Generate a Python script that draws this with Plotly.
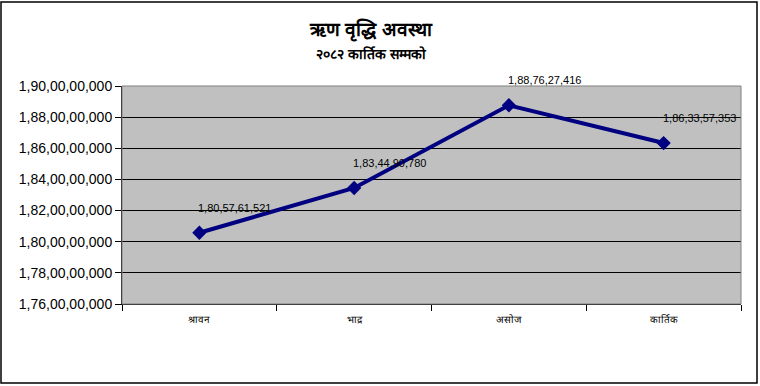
import plotly.graph_objects as go

months = ["श्रावन", "भाद्र", "असोज", "कार्तिक"]
values = [1805761521, 1834490780, 1887627416, 1863357353]
labels = ["1,80,57,61,521", "1,83,44,90,780", "1,88,76,27,416", "1,86,33,57,353"]
ytick_vals = [1760000000, 1780000000, 1800000000, 1820000000, 1840000000, 1860000000, 1880000000, 1900000000]
ytick_text = ["1,76,00,00,000", "1,78,00,00,000", "1,80,00,00,000", "1,82,00,00,000",
              "1,84,00,00,000", "1,86,00,00,000", "1,88,00,00,000", "1,90,00,00,000"]
title = "ऋण वृद्धि अवस्था"
subtitle = "२०८२ कार्तिक सम्मको"

fig = go.Figure()
fig.add_trace(go.Scatter(
    x=months, y=values, mode="lines+markers",
    line=dict(color="#000080", width=4),
    marker=dict(symbol="diamond", size=11, color="#000080"),
    hoverinfo="skip", showlegend=False,
))

for m, v, t in zip(months, values, labels):
    fig.add_annotation(x=m, y=v, text=t, showarrow=False, xanchor="left", yanchor="bottom",
                       xshift=-3, yshift=17, font=dict(family="Arial, Liberation Sans", size=11, color="#000000"))

tx = (371 - 122) / 619
fig.add_annotation(x=tx, y=1, xref="paper", yref="paper", yanchor="bottom", yshift=42, showarrow=False,
                   text="<b>" + title + "</b>", font=dict(size=19, color="#000000"))
fig.add_annotation(x=tx, y=1, xref="paper", yref="paper", yanchor="bottom", yshift=22, showarrow=False,
                   text="<b>" + subtitle + "</b>", font=dict(size=14, color="#000000"))

fig.update_layout(
    width=760, height=386,
    margin=dict(l=122, r=19, t=86, b=82),
    paper_bgcolor="white", plot_bgcolor="#C0C0C0",
    font=dict(family="Arial, Liberation Sans, sans-serif", color="#000000"),
    shapes=[dict(type="rect", xref="paper", yref="paper", x0=-121/619, x1=1+16/619, y0=-79/218, y1=1+84/218,
                 line=dict(color="black", width=1.5), fillcolor="rgba(0,0,0,0)", layer="below")],
)
fig.update_xaxes(
    tickson="boundaries", ticks="outside", ticklen=6, tickcolor="black",
    showgrid=False, showline=True, linecolor="black", linewidth=1,
    tickfont=dict(size=10), range=[-0.5, 3.5], mirror=False, ticklabelstandoff=6,
)
fig.update_yaxes(
    range=[1760000000, 1900000000], tickvals=ytick_vals, ticktext=ytick_text,
    ticks="outside", ticklen=6, tickcolor="black", tickfont=dict(size=14, color="#000000"),
    showgrid=True, gridcolor="black", gridwidth=1,
    showline=True, linecolor="black", linewidth=1, zeroline=False,
)
fig.add_shape(type="rect", xref="paper", yref="paper", x0=0, x1=1, y0=0, y1=1,
              line=dict(color="#808080", width=1), fillcolor="rgba(0,0,0,0)")

fig.write_html("out.html", config={"displayModeBar": False},
               post_script="document.body.style.margin='0';document.body.style.overflow='hidden';")
